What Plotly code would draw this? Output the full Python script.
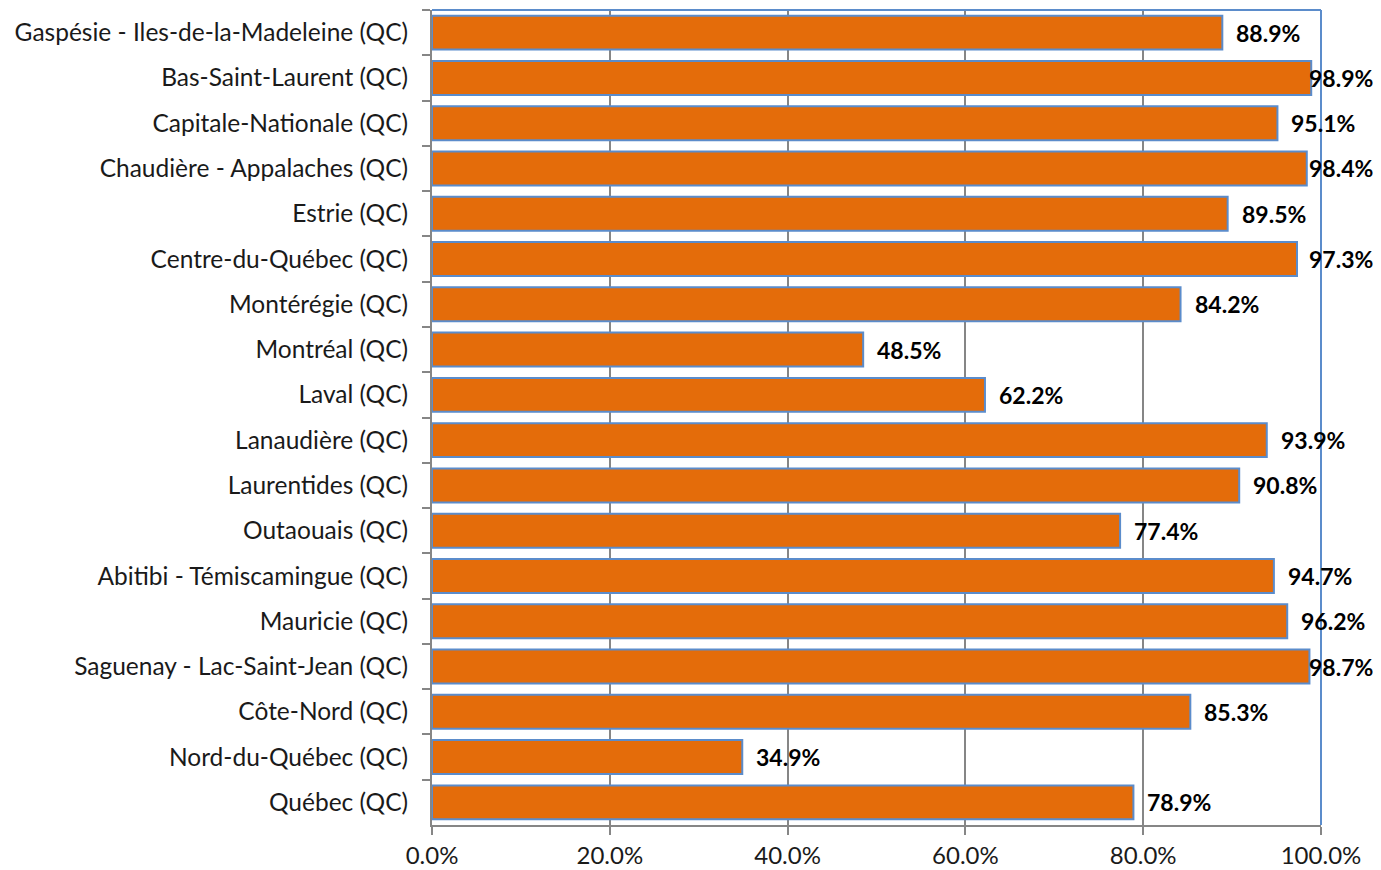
import plotly.graph_objects as go

regions = [
    "Gaspésie - Iles-de-la-Madeleine (QC)",
    "Bas-Saint-Laurent (QC)",
    "Capitale-Nationale (QC)",
    "Chaudière - Appalaches (QC)",
    "Estrie (QC)",
    "Centre-du-Québec (QC)",
    "Montérégie (QC)",
    "Montréal (QC)",
    "Laval (QC)",
    "Lanaudière (QC)",
    "Laurentides (QC)",
    "Outaouais (QC)",
    "Abitibi - Témiscamingue (QC)",
    "Mauricie (QC)",
    "Saguenay - Lac-Saint-Jean (QC)",
    "Côte-Nord (QC)",
    "Nord-du-Québec (QC)",
    "Québec (QC)",
]
values = [88.9, 98.9, 95.1, 98.4, 89.5, 97.3, 84.2, 48.5, 62.2,
          93.9, 90.8, 77.4, 94.7, 96.2, 98.7, 85.3, 34.9, 78.9]
x_ticks = [0, 20, 40, 60, 80, 100]

# page has an 8px body margin, so the figure is drawn 8px smaller
W, H = 1373, 862
L, R, T, B = 424, 60, 2, 45
plot_w = W - L - R

FONT = "Lato"
ORANGE = "#E46C0A"
BLUE = "#5B8CCB"
GRAY = "#868686"

fig = go.Figure()
fig.add_trace(go.Bar(
    y=regions, x=values, orientation="h",
    marker=dict(color=ORANGE, line=dict(color=BLUE, width=2)),
    hoverinfo="x+y",
))

# data labels, kept inside the chart area on the right as in the original
max_start = W - 74
annotations = []
for r, v in zip(regions, values):
    end_px = L + v / 100 * plot_w
    shift = min(12, max_start - end_px)
    annotations.append(dict(
        x=v, y=r, xref="x", yref="y", text=f"{v:.1f}%",
        showarrow=False, xanchor="left", yanchor="middle", xshift=shift,
        font=dict(family=FONT, size=23, color="#000000", weight="bold"),
    ))

fig.update_layout(
    width=W, height=H,
    margin=dict(l=L, r=R, t=T, b=B, pad=0),
    paper_bgcolor="white", plot_bgcolor="white",
    bargap=0.25,
    showlegend=False,
    annotations=annotations,
    font=dict(family=FONT, size=24.5, color="#1a1a1a"),
    shapes=[
        dict(type="line", xref="paper", yref="paper", x0=0, x1=1, y0=1, y1=1,
             line=dict(color=BLUE, width=2), layer="above"),
        dict(type="line", xref="paper", yref="paper", x0=1, x1=1, y0=0, y1=1,
             line=dict(color=BLUE, width=2), layer="above"),
    ],
)
fig.update_xaxes(
    range=[0, 100], tickvals=x_ticks,
    ticktext=[f"{t:.1f}%" for t in x_ticks],
    showgrid=True, gridcolor=GRAY, gridwidth=2,
    showline=True, linecolor=GRAY, linewidth=2,
    ticks="outside", ticklen=8, tickwidth=2, tickcolor=GRAY,
    zeroline=False, fixedrange=True,
    tickfont=dict(family=FONT, size=24, color="#1a1a1a"),
)
fig.update_yaxes(
    autorange="reversed", type="category",
    showline=True, linecolor=GRAY, linewidth=2,
    ticks="outside", ticklen=8, tickwidth=2, tickcolor=GRAY,
    tickson="boundaries", showgrid=False,
    ticklabelstandoff=17,
    tickfont=dict(family=FONT, size=24.5, color="#1a1a1a"),
)

fig.write_html("out.html")
